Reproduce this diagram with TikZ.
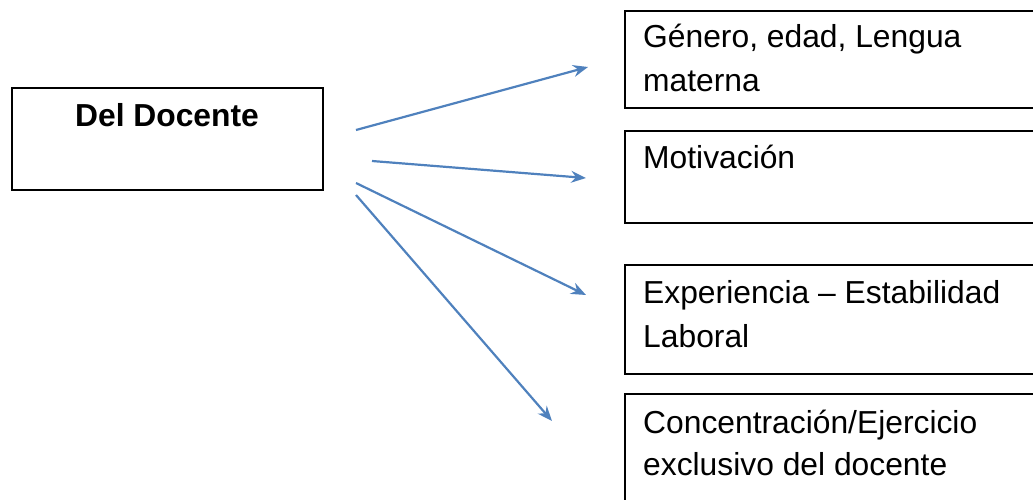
\documentclass[tikz,border=0pt]{standalone}
\usepackage{fontspec}
\setmainfont{Liberation Sans}
\usetikzlibrary{arrows.meta}
\definecolor{flecha}{RGB}{79,129,189}
\begin{document}
\begin{tikzpicture}[x=1pt,y=-1pt, font=\fontsize{31.8}{44}\selectfont]
\useasboundingbox (0,0) rectangle (1033,500);
\clip (0,0) rectangle (1033,500);
\node[draw, line width=1.6pt, minimum width=311pt, minimum height=102pt, inner sep=0pt] (doc) at (167.5,139){};
\node[anchor=base, font=\fontsize{31.8}{44}\selectfont\bfseries] (doctxt) at (167,127){Del Docente};
\node[draw, line width=1.6pt, anchor=north west, minimum width=500pt, minimum height=97pt, inner sep=0pt] (gen) at (624,10){};
\node[anchor=base west, inner sep=0pt] (gen1) at (643,48){Género, edad, Lengua};
\node[anchor=base west, inner sep=0pt] (gen2) at (643,92){materna};
\node[draw, line width=1.6pt, anchor=north west, minimum width=500pt, minimum height=92pt, inner sep=0pt] (mot) at (624,130){};
\node[anchor=base west, inner sep=0pt] (mot1) at (643,168){Motivación};
\node[draw, line width=1.6pt, anchor=north west, minimum width=500pt, minimum height=109pt, inner sep=0pt] (exp) at (624,264){};
\node[anchor=base west, inner sep=0pt] (exp1) at (643,303){Experiencia – Estabilidad};
\node[anchor=base west, inner sep=0pt] (exp2) at (643,347){Laboral};
\node[draw, line width=1.6pt, anchor=north west, minimum width=500pt, minimum height=150pt, inner sep=0pt] (con) at (624,393){};
\node[anchor=base west, inner sep=0pt] (con1) at (643,433){Concentración/Ejercicio};
\node[anchor=base west, inner sep=0pt] (con2) at (643,475){exclusivo del docente};
\coordinate (a1) at (356,130);
\coordinate (b1) at (588,67);
\coordinate (a2) at (372,161);
\coordinate (b2) at (586,178);
\coordinate (a3) at (356,183);
\coordinate (b3) at (586,295);
\coordinate (a4) at (356,195);
\coordinate (b4) at (552,421);
\draw[flecha, line width=2.2pt, -{Stealth[length=15pt,width=12pt,inset=5pt]}](a1) -- (b1);
\draw[flecha, line width=2.2pt, -{Stealth[length=15pt,width=12pt,inset=5pt]}](a2) -- (b2);
\draw[flecha, line width=2.2pt, -{Stealth[length=15pt,width=12pt,inset=5pt]}](a3) -- (b3);
\draw[flecha, line width=2.2pt, -{Stealth[length=15pt,width=12pt,inset=5pt]}](a4) -- (b4);
\end{tikzpicture}
\end{document}
